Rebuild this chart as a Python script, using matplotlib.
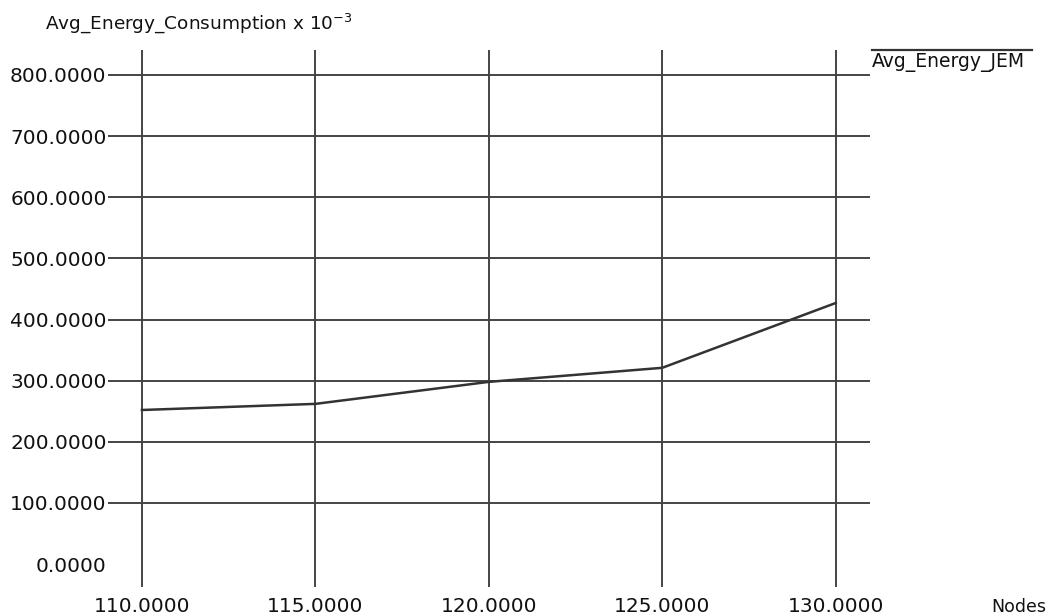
import matplotlib
matplotlib.use('Agg')
import matplotlib.pyplot as plt
from matplotlib.lines import Line2D

nodes = [110, 115, 120, 125, 130]
avg_energy_jem = [252, 262, 298, 321, 427]
xticks = [110, 115, 120, 125, 130]
yticks = [0, 100, 200, 300, 400, 500, 600, 700, 800]

plt.rcParams['font.family'] = 'DejaVu Sans'

fig = plt.figure(figsize=(10.58, 6.16), dpi=100)
ax = fig.add_axes([0.102, 0.047, 0.72, 0.872])

ax.plot(nodes, avg_energy_jem, color='#333333', lw=1.8)

ax.set_xlim(109.02, 130.98)
ax.set_ylim(-37.6, 841)
ax.set_xticks(xticks)
ax.set_yticks(yticks)
ax.set_xticklabels(['%.4f' % v for v in xticks])
ax.set_yticklabels(['%.4f' % v for v in yticks])
ax.tick_params(length=0, labelsize=14.5, colors='#111111')
ax.tick_params(axis='x', pad=7)
ax.tick_params(axis='y', pad=1)
ax.grid(True, color='#444444', lw=1.4)
ax.get_ygridlines()[0].set_visible(False)
ax.set_axisbelow(True)
for s in ax.spines.values():
    s.set_visible(False)

fig.text(0.043, 0.963, 'Avg_Energy_Consumption x 10$^{-3}$', fontsize=13.3,
         color='#111111', va='center', ha='left')
fig.text(0.824, 0.898, 'Avg_Energy_JEM', fontsize=13.5, color='#111111',
         va='center', ha='left')
fig.add_artist(Line2D([0.824, 0.975], [0.919, 0.919], color='#333333', lw=1.6,
                      transform=fig.transFigure))
fig.text(0.937, 0.0, 'Nodes', fontsize=12.5, color='#111111', va='bottom', ha='left')

fig.savefig('out.png', dpi=100)
